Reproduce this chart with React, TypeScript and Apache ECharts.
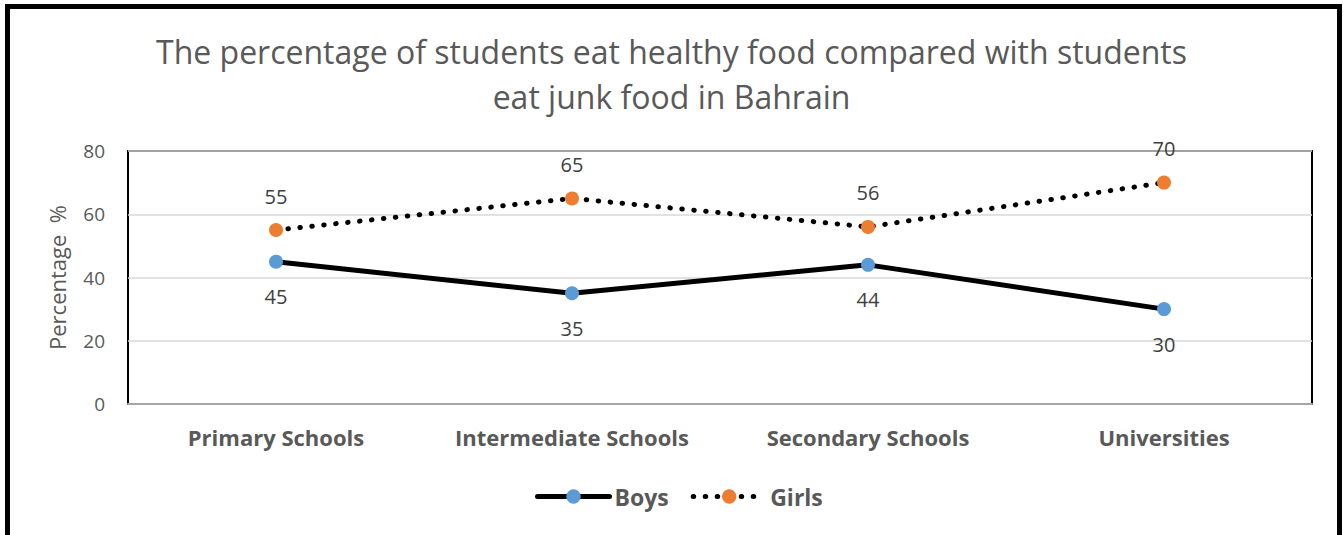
import React, { useEffect, useRef } from "react";
import * as echarts from "echarts";

const categories = ["Primary Schools", "Intermediate Schools", "Secondary Schools", "Universities"];
const boys = [45, 35, 44, 30];
const girls = [55, 65, 56, 70];
const yTicks = [0, 20, 40, 60, 80];

const FONT = "'Open Sans', Lato, sans-serif";

export default function App() {
  const ref = useRef<HTMLDivElement>(null);
  useEffect(() => {
    const chart = echarts.init(ref.current!, null, { renderer: "svg" });
    chart.setOption({
      animation: false,
      backgroundColor: "#fff",
      textStyle: { fontFamily: FONT },
      title: {
        text: "The percentage of students eat healthy food compared with students\neat junk food in Bahrain",
        left: "center",
        top: 24,
        textStyle: { fontFamily: FONT, fontSize: 32, fontWeight: "normal", color: "#595959", lineHeight: 45 },
      },
      graphic: [
        {
          type: "rect",
          shape: { x: 7.5, y: 6.5, width: 1332, height: 540 },
          style: { fill: "none", stroke: "#000", lineWidth: 5 },
          silent: true,
        },
      ],
      legend: {
        bottom: 22,
        left: 530,
        itemWidth: 72,
        itemHeight: 18,
        itemGap: 22,
        textStyle: { fontFamily: FONT, fontSize: 23, fontWeight: "bold", color: "#595959" },
        data: [
          { name: "Boys", lineStyle: { width: 5, color: "#000" } },
          { name: "Girls", lineStyle: { width: 5, color: "#000" } },
        ],
      },
      grid: {
        left: 128,
        right: 31,
        top: 151,
        bottom: 131,
        show: true,
        borderColor: "#000",
        borderWidth: 2,
        backgroundColor: "transparent",
      },
      xAxis: {
        type: "category",
        data: categories,
        boundaryGap: true,
        axisLine: { lineStyle: { color: "#a6a6a6", width: 2 } },
        axisTick: { show: false },
        axisLabel: {
          interval: 0,
          hideOverlap: false,
          fontFamily: FONT,
          fontSize: 22,
          fontWeight: "bold",
          color: "#595959",
          margin: 22,
        },
      },
      yAxis: {
        type: "value",
        min: yTicks[0],
        max: yTicks[yTicks.length - 1],
        interval: 20,
        name: "Percentage  %",
        nameLocation: "middle",
        nameGap: 60,
        nameTextStyle: { fontFamily: FONT, fontSize: 22, color: "#595959" },
        axisLine: { show: false },
        axisTick: { show: false },
        axisLabel: { fontFamily: FONT, fontSize: 19, color: "#595959", margin: 23 },
        splitLine: { lineStyle: { color: "#d9d9d9", width: 1.5 } },
      },
      series: [
        {
          name: "Boys",
          type: "line",
          data: boys,
          symbol: "circle",
          symbolSize: 14,
          itemStyle: { color: "#5B9BD5" },
          lineStyle: { color: "#000", width: 5, cap: "round", join: "round" },
          label: { show: true, position: "bottom", distance: 18, fontFamily: FONT, fontSize: 20, color: "#404040" },
        },
        {
          name: "Girls",
          type: "line",
          data: girls,
          symbol: "circle",
          symbolSize: 14,
          itemStyle: { color: "#ED7D31" },
          lineStyle: { color: "#000", width: 5, type: [0.5, 11.5], cap: "round" },
          label: { show: true, position: "top", distance: 17, fontFamily: FONT, fontSize: 20, color: "#404040" },
        },
      ],
    });
    return () => chart.dispose();
  }, []);
  return <div ref={ref} style={{ position: "absolute", left: 0, top: 0, width: 1343, height: 535 }} />;
}
